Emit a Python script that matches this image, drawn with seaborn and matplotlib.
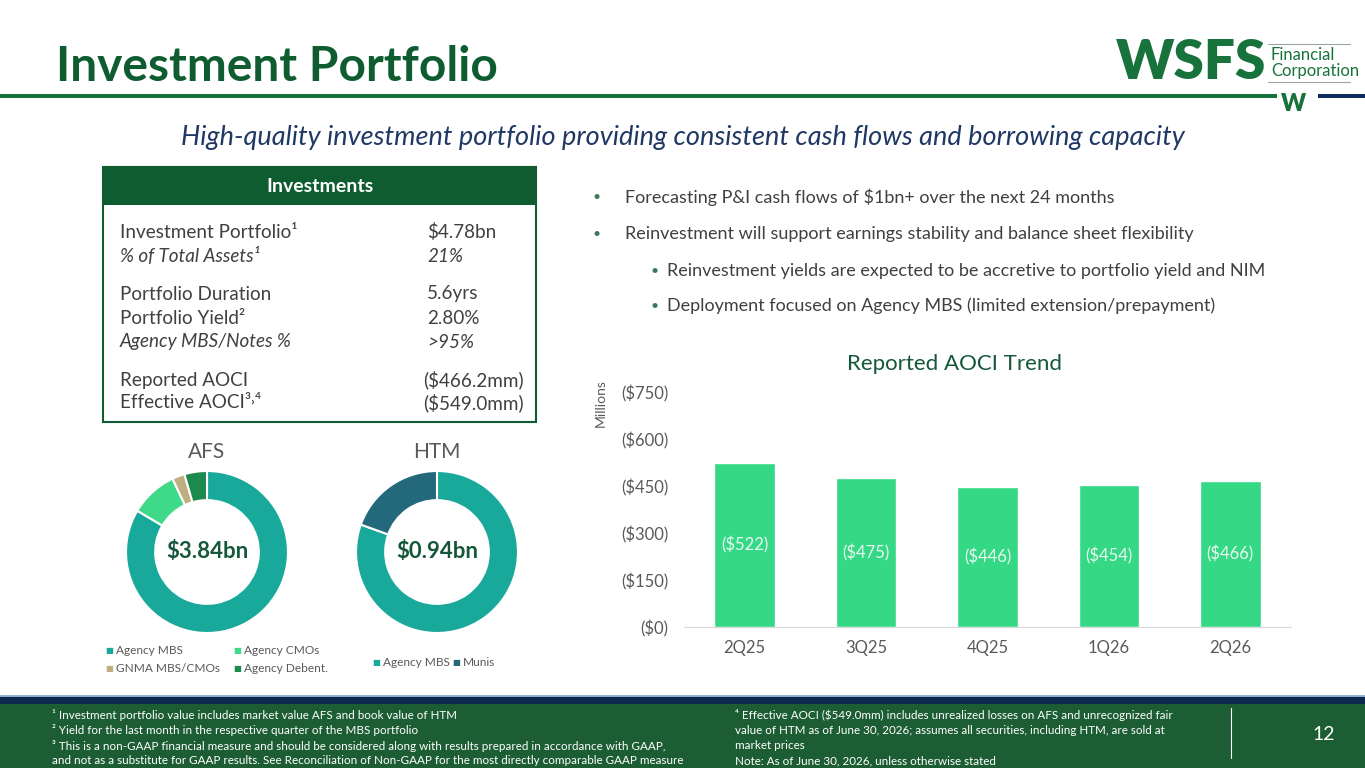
import matplotlib
matplotlib.use("Agg")
import matplotlib.pyplot as plt
import seaborn as sns
import pandas as pd
from matplotlib.patches import Rectangle
from matplotlib.lines import Line2D

sns.set_style("white")
plt.rcParams['font.family'] = ['Lato', 'DejaVu Sans']

# ---- data ----
quarters = ["2Q25", "3Q25", "4Q25", "1Q26", "2Q26"]
aoci = [522, 475, 446, 454, 466]

afs_labels = ["Agency MBS", "Agency CMOs", "GNMA MBS/CMOs", "Agency Debent."]
afs_share = [83.5, 9.5, 2.5, 4.5]
htm_labels = ["Agency MBS", "Munis"]
htm_share = [80.5, 19.5]

table_labels = ["Investment Portfolio¹", "% of Total Assets¹", "Portfolio Duration",
                "Portfolio Yield²", "Agency MBS/Notes %", "Reported AOCI", "Effective AOCI³˒⁴"]
table_values = ["$4.78bn", "21%", "5.6yrs", "2.80%", ">95%", "($466.2mm)", "($549.0mm)"]
table_italic = [False, True, False, False, True, False, False]

bullets = [
    (0, "Forecasting P&I cash flows of $1bn+ over the next 24 months"),
    (0, "Reinvestment will support earnings stability and balance sheet flexibility"),
    (1, "Reinvestment yields are expected to be accretive to portfolio yield and NIM"),
    (1, "Deployment focused on Agency MBS (limited extension/prepayment)"),
]

notes_left = [
    "¹ Investment portfolio value includes market value AFS and book value of HTM",
    "² Yield for the last month in the respective quarter of the MBS portfolio",
    "³ This is a non-GAAP financial measure and should be considered along with results prepared in accordance with GAAP,",
    "and not as a substitute for GAAP results. See Reconciliation of Non-GAAP for the most directly comparable GAAP measure",
]
notes_right = [
    "⁴ Effective AOCI ($549.0mm) includes unrealized losses on AFS and unrecognized fair",
    "value of HTM as of June 30, 2026; assumes all securities, including HTM, are sold at",
    "market prices",
    "Note: As of June 30, 2026, unless otherwise stated",
]

# ---- colours ----
green_dark = "#0f5c31"
navy = "#1f3864"
teal = "#18a99b"
afs_colors = [teal, "#3fd98a", "#bfae80", "#1c8a4f"]
htm_colors = [teal, "#23687b"]
bar_color = "#35d884"
grey_txt = "#595959"

W, H = 1365, 768
fig = plt.figure(figsize=(13.65, 7.68), dpi=100)


def fx(px):
    return px / W


def fy(py):
    return 1 - py / H


def rect(x0, y0, x1, y1, **kw):
    fig.add_artist(Rectangle((fx(x0), fy(y1)), fx(x1) - fx(x0), fy(y0) - fy(y1),
                             transform=fig.transFigure, **kw))


def hline(x0, x1, y, **kw):
    fig.add_artist(Line2D([fx(x0), fx(x1)], [fy(y), fy(y)], transform=fig.transFigure, **kw))


# ---- header ----
fig.text(fx(56), fy(67), "Investment Portfolio", fontsize=34.5, fontweight="bold",
         color=green_dark, va="center")
rect(0, 94, 1277, 98, color="#17733b", lw=0)
rect(1318, 94, 1365, 98, color="#0f2d5a", lw=0)
fig.text(fx(1294), fy(104), "W", fontsize=17, fontweight="heavy", color="#17733b",
         ha="center", va="center")
fig.text(fx(1116), fy(63), "WSFS", fontsize=39.5, fontweight="heavy", color="#17733b",
         va="center")
hline(1268, 1350, 44, color="#9aa5a0", lw=0.8)
hline(1268, 1350, 82, color="#9aa5a0", lw=0.8)
fig.text(fx(1271), fy(55), "Financial", fontsize=12, color="#17733b", va="center")
fig.text(fx(1271), fy(71), "Corporation", fontsize=12, color="#17733b", va="center")

fig.text(fx(683), fy(138), "High-quality investment portfolio providing consistent cash flows and borrowing capacity",
         fontsize=19.5, style="italic", color=navy, ha="center", va="center")

# ---- table ----
rect(103, 167, 536, 422, facecolor="white", edgecolor=green_dark, lw=1.5)
rect(103, 167, 536, 205, color=green_dark, lw=0)
fig.text(fx(320), fy(187), "Investments", fontsize=14, fontweight="bold", color="white",
         ha="center", va="center")
row_y = [232, 256, 294, 318, 342, 380, 403]
for lab, val, it, yy in zip(table_labels, table_values, table_italic, row_y):
    st = "italic" if it else "normal"
    fig.text(fx(120), fy(yy), lab, fontsize=13.6, style=st, color="#404040", va="center")
    xv = 427 if not val.startswith("(") else 423
    fig.text(fx(xv), fy(yy), val, fontsize=13.6, style=st, color="#404040", va="center")

# ---- donuts ----
def donut(cx, title, shares, colors, center_txt):
    r = 81
    ax = fig.add_axes([fx(cx - r), fy(552 + r), 2 * r / W, 2 * r / H])
    ax.pie(shares, colors=colors, startangle=90, counterclock=False,
           wedgeprops=dict(width=0.36, edgecolor="white", linewidth=1.5))
    ax.set_xlim(-1, 1)
    ax.set_ylim(-1, 1)
    ax.text(0, 0, center_txt, ha="center", va="center", fontsize=16, fontweight="bold",
            color="#15573a")
    fig.text(fx(cx), fy(452), title, fontsize=15, color=grey_txt, ha="center", va="center")


donut(207, "AFS", afs_share, afs_colors, "$3.84bn")
donut(437, "HTM", htm_share, htm_colors, "$0.94bn")

afs_pos = [(105, 650), (233, 650), (105, 668), (233, 668)]
for (px, py), lab, col in zip(afs_pos, afs_labels, afs_colors):
    fig.text(fx(px), fy(py), "■", fontsize=6, color=col, va="center")
    fig.text(fx(px + 11), fy(py), lab, fontsize=8.6, color=grey_txt, va="center")
htm_pos = [(372, 662), (452, 662)]
for (px, py), lab, col in zip(htm_pos, htm_labels, htm_colors):
    fig.text(fx(px), fy(py), "■", fontsize=6, color=col, va="center")
    fig.text(fx(px + 11), fy(py), lab, fontsize=8.6, color=grey_txt, va="center")

# ---- bullets ----
bullet_y = [197, 234, 271, 306]
for (lvl, txt), yy in zip(bullets, bullet_y):
    bx = 593 if lvl == 0 else 650
    fig.text(fx(bx), fy(yy), "•", fontsize=10, color="#3d7a58", va="center")
    fig.text(fx(bx + 32 if lvl == 0 else bx + 17), fy(yy), txt, fontsize=13,
             color="#404040", va="center")

# ---- bar chart ----
df = pd.DataFrame({"quarter": quarters, "aoci": aoci})
ax = fig.add_axes([fx(684), fy(627), (1291 - 684) / W, (627 - 392) / H])
sns.barplot(data=df, x="quarter", y="aoci", color=bar_color, width=0.5, saturation=1, ax=ax)
ax.bar_label(ax.containers[0], labels=[f"(${v})" for v in aoci], label_type="center",
             color="#e9faf0", fontsize=12)
ax.set_ylim(0, 750)
ax.set_xlim(-0.5, 4.5)
ax.set_yticks(range(0, 751, 150))
ax.set_yticklabels([f"(${v})" for v in range(0, 751, 150)])
ax.set_xlabel("")
ax.set_ylabel("")
ax.tick_params(axis="both", length=0, labelsize=12, labelcolor=grey_txt)
ax.tick_params(axis="y", pad=11)
ax.tick_params(axis="x", pad=9)
for s in ["top", "right", "left"]:
    ax.spines[s].set_visible(False)
ax.spines["bottom"].set_color("#d9d9d9")
ax.set_facecolor("white")
fig.text(fx(955), fy(364), "Reported AOCI Trend", fontsize=16, color="#15573a",
         ha="center", va="center")
fig.text(fx(601), fy(403), "Millions", fontsize=10, color=grey_txt, rotation=90,
         ha="center", va="center")

# ---- footer ----
rect(0, 695, W, 697, color="#8fb0cc", lw=0)
rect(0, 697, W, 704, color="#0c2a50", lw=0)
rect(0, 704, W, H, color="#1c5d33", lw=0)
for i, t in enumerate(notes_left):
    fig.text(fx(52), fy(715 + i * 15.3), t, fontsize=8.4, color="white", va="center")
for i, t in enumerate(notes_right):
    fig.text(fx(735), fy(715 + i * 15.3), t, fontsize=8.4, color="white", va="center")
fig.add_artist(Line2D([fx(1231), fx(1231)], [fy(708), fy(758)], transform=fig.transFigure,
                      color="white", lw=0.8))
fig.text(fx(1324), fy(734), "12", fontsize=14, color="white", ha="center", va="center")

fig.savefig("out.png", dpi=100, facecolor="white")
